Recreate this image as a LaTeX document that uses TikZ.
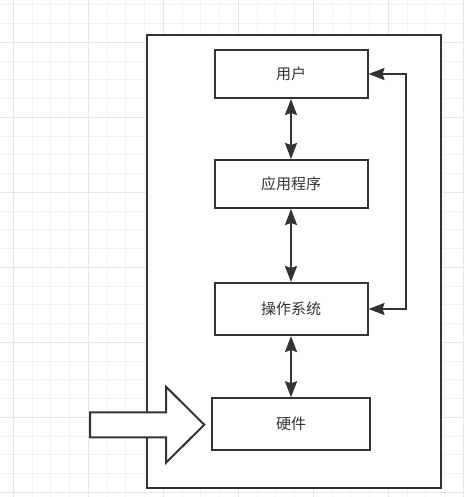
\documentclass[tikz,border=0pt]{standalone}
\usepackage{fontspec}
\newfontfamily\cjk{Noto Sans CJK SC}
\usetikzlibrary{arrows.meta}
\definecolor{ink}{HTML}{333333}
\definecolor{gridminor}{HTML}{F3F3F3}
\definecolor{gridmajor}{HTML}{E6E6E6}

\begin{document}
\begin{tikzpicture}[x=1pt,y=-1pt,
    box/.style={draw=ink, line width=2pt, fill=white, text=ink, inner sep=0pt,
      minimum width=153pt, minimum height=48pt, font=\cjk\fontsize{15}{15}\selectfont},
    link/.style={draw=ink, line width=2pt, {Stealth[length=16pt,width=12pt,inset=2pt]}-{Stealth[length=16pt,width=12pt,inset=2pt]}}]
            \useasboundingbox (0,0) rectangle (464,497);
            % background grid
            \foreach \i in {0,...,25} {
              \draw[gridminor, line width=1pt] (-5.42+18.75*\i,0) -- ++(0,497);
              \draw[gridminor, line width=1pt] (0,4.83+18.75*\i) -- ++(464,0);
            }
            \foreach \i in {0,...,6} {
              \draw[gridmajor, line width=1pt] (13.33+75*\i,0) -- ++(0,497);
              \draw[gridmajor, line width=1pt] (0,42.33+75*\i) -- ++(464,0);
            }
            \draw[ink, line width=2pt, fill=white] (147,35) rectangle (441,488);

            \node[box] (user) at (291,74) {用户};
            \node[box] (app) at (291,184) {应用程序};
            \node[box, minimum height=52pt] (os) at (291,309) {操作系统};
            \node[box, minimum width=158pt, minimum height=52pt] (hw) at (291,424.3) {硬件};

            \draw[link] (user) -- (app);
            \draw[link] (app) -- (os);
            \draw[link] (os) -- (hw);
            \draw[link] (os.east) -- ++(37,0) |- (user.east);

            % input arrow into the hardware
            \draw[ink, line width=2pt, fill=white, line join=miter]
              (90,412.3) -- (166,412.3) -- (166,386.7) -- (204.3,424.7)
              -- (166,462.7) -- (166,437.3) -- (90,437.3) -- cycle;
        \end{tikzpicture}
\end{document}
